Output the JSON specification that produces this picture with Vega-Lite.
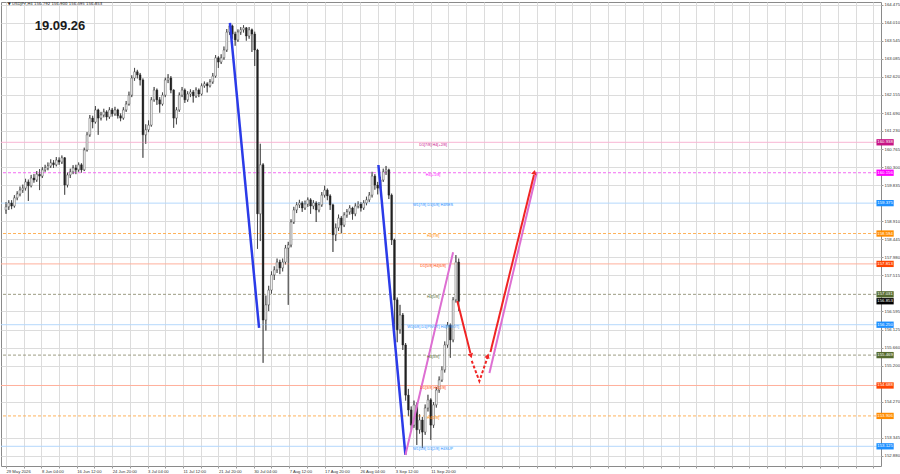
{
"$schema":"https://vega.github.io/schema/vega-lite/v6.json",
"width":880,"height":464,
"autosize":{"type":"none"},
"padding":{"left":1,"top":2,"right":19,"bottom":8},
"background":"#ffffff",
"config":{"view":{"stroke":"#8a8a8a","strokeWidth":1},"font":"Liberation Sans"},
"datasets":{
"h4":[
{"i":0,"o":159.20,"h":159.40,"l":159.10,"c":159.28},
{"i":3,"o":159.28,"h":159.45,"l":159.20,"c":159.38},
{"i":6,"o":159.38,"h":159.45,"l":159.22,"c":159.30},
{"i":9,"o":159.30,"h":159.58,"l":159.26,"c":159.51},
{"i":12,"o":159.51,"h":159.68,"l":159.45,"c":159.61},
{"i":15,"o":159.61,"h":159.80,"l":159.55,"c":159.71},
{"i":18,"o":159.71,"h":159.85,"l":159.64,"c":159.76},
{"i":21,"o":159.76,"h":160.00,"l":159.70,"c":159.92},
{"i":24,"o":159.92,"h":159.98,"l":159.43,"c":159.82},
{"i":27,"o":159.82,"h":160.10,"l":159.78,"c":160.02},
{"i":30,"o":160.02,"h":160.12,"l":159.90,"c":159.97},
{"i":33,"o":159.97,"h":160.20,"l":159.92,"c":160.12},
{"i":36,"o":160.12,"h":160.25,"l":159.71,"c":160.07},
{"i":39,"o":160.07,"h":160.30,"l":160.02,"c":160.23},
{"i":42,"o":160.23,"h":160.36,"l":160.18,"c":160.28},
{"i":45,"o":160.28,"h":160.42,"l":160.22,"c":160.33},
{"i":48,"o":160.33,"h":160.50,"l":160.28,"c":160.41},
{"i":51,"o":160.41,"h":160.48,"l":160.28,"c":160.36},
{"i":54,"o":160.36,"h":160.56,"l":160.32,"c":160.48},
{"i":57,"o":160.48,"h":160.55,"l":160.36,"c":160.43},
{"i":60,"o":160.43,"h":160.60,"l":160.38,"c":160.54},
{"i":63,"o":160.54,"h":160.56,"l":159.59,"c":159.84},
{"i":66,"o":159.84,"h":160.16,"l":159.78,"c":160.10},
{"i":69,"o":160.10,"h":160.26,"l":160.02,"c":160.18},
{"i":72,"o":160.18,"h":160.35,"l":160.12,"c":160.28},
{"i":75,"o":160.28,"h":160.36,"l":160.12,"c":160.23},
{"i":78,"o":160.23,"h":160.42,"l":160.18,"c":160.36},
{"i":81,"o":160.36,"h":160.40,"l":160.16,"c":160.23},
{"i":84,"o":160.23,"h":160.80,"l":160.20,"c":160.74},
{"i":87,"o":160.74,"h":161.20,"l":160.70,"c":161.13},
{"i":90,"o":161.13,"h":161.64,"l":161.08,"c":161.56},
{"i":93,"o":161.56,"h":161.62,"l":161.30,"c":161.46},
{"i":96,"o":161.46,"h":161.87,"l":161.42,"c":161.77},
{"i":99,"o":161.77,"h":161.80,"l":161.13,"c":161.56},
{"i":102,"o":161.56,"h":161.72,"l":161.50,"c":161.64},
{"i":105,"o":161.64,"h":161.80,"l":161.58,"c":161.72},
{"i":108,"o":161.72,"h":161.76,"l":161.50,"c":161.59},
{"i":111,"o":161.59,"h":161.84,"l":161.54,"c":161.77},
{"i":114,"o":161.77,"h":161.82,"l":161.60,"c":161.67},
{"i":117,"o":161.67,"h":161.85,"l":161.62,"c":161.77},
{"i":120,"o":161.77,"h":161.80,"l":161.55,"c":161.62},
{"i":123,"o":161.62,"h":161.68,"l":161.48,"c":161.56},
{"i":126,"o":161.56,"h":161.84,"l":161.52,"c":161.77},
{"i":129,"o":161.77,"h":162.00,"l":161.72,"c":161.92},
{"i":132,"o":161.92,"h":162.24,"l":161.88,"c":162.15},
{"i":135,"o":162.15,"h":162.66,"l":162.10,"c":162.59},
{"i":138,"o":162.59,"h":162.85,"l":162.52,"c":162.75},
{"i":141,"o":162.75,"h":162.80,"l":162.58,"c":162.67},
{"i":144,"o":162.67,"h":162.72,"l":162.40,"c":162.54},
{"i":147,"o":162.54,"h":162.58,"l":160.54,"c":161.13},
{"i":150,"o":161.13,"h":161.40,"l":160.90,"c":161.26},
{"i":153,"o":161.26,"h":161.50,"l":161.20,"c":161.38},
{"i":156,"o":161.38,"h":162.10,"l":161.34,"c":162.03},
{"i":159,"o":162.03,"h":162.36,"l":161.98,"c":162.28},
{"i":162,"o":162.28,"h":162.32,"l":161.90,"c":162.03},
{"i":165,"o":162.03,"h":162.10,"l":161.70,"c":161.92},
{"i":168,"o":161.92,"h":162.22,"l":161.88,"c":162.15},
{"i":171,"o":162.15,"h":162.60,"l":162.10,"c":162.54},
{"i":174,"o":162.54,"h":162.69,"l":162.46,"c":162.59},
{"i":177,"o":162.59,"h":162.64,"l":162.20,"c":162.28},
{"i":180,"o":162.28,"h":162.30,"l":161.31,"c":161.56},
{"i":183,"o":161.56,"h":161.84,"l":161.40,"c":161.77},
{"i":186,"o":161.77,"h":162.22,"l":161.72,"c":162.15},
{"i":189,"o":162.15,"h":162.36,"l":162.10,"c":162.28},
{"i":192,"o":162.28,"h":162.32,"l":161.95,"c":162.03},
{"i":195,"o":162.03,"h":162.25,"l":161.98,"c":162.18},
{"i":198,"o":162.18,"h":162.30,"l":162.10,"c":162.23},
{"i":201,"o":162.23,"h":162.28,"l":161.96,"c":162.13},
{"i":204,"o":162.13,"h":162.35,"l":162.08,"c":162.28},
{"i":207,"o":162.28,"h":162.32,"l":162.10,"c":162.18},
{"i":210,"o":162.18,"h":162.45,"l":162.14,"c":162.39},
{"i":213,"o":162.39,"h":162.50,"l":162.34,"c":162.44},
{"i":216,"o":162.44,"h":162.48,"l":162.22,"c":162.39},
{"i":219,"o":162.39,"h":162.56,"l":162.35,"c":162.49},
{"i":222,"o":162.49,"h":162.72,"l":162.44,"c":162.64},
{"i":225,"o":162.64,"h":163.18,"l":162.60,"c":163.11},
{"i":228,"o":163.11,"h":163.15,"l":162.85,"c":163.00},
{"i":231,"o":163.00,"h":163.20,"l":162.95,"c":163.11},
{"i":234,"o":163.11,"h":163.40,"l":163.06,"c":163.31},
{"i":237,"o":163.31,"h":163.85,"l":163.26,"c":163.77},
{"i":240,"o":163.77,"h":164.00,"l":163.70,"c":163.93},
{"i":243,"o":163.93,"h":163.96,"l":163.60,"c":163.72},
{"i":246,"o":163.72,"h":163.78,"l":163.42,"c":163.57},
{"i":249,"o":163.57,"h":163.84,"l":163.52,"c":163.77},
{"i":252,"o":163.77,"h":163.90,"l":163.70,"c":163.83},
{"i":255,"o":163.83,"h":163.95,"l":163.76,"c":163.88},
{"i":258,"o":163.88,"h":163.90,"l":163.55,"c":163.67},
{"i":261,"o":163.67,"h":163.90,"l":163.60,"c":163.83},
{"i":264,"o":163.83,"h":163.86,"l":163.26,"c":163.72},
{"i":267,"o":163.72,"h":163.78,"l":162.90,"c":163.31},
{"i":270,"o":163.31,"h":163.34,"l":158.20,"c":159.10},
{"i":273,"o":159.10,"h":160.90,"l":158.40,"c":160.36},
{"i":276,"o":160.36,"h":160.40,"l":155.27,"c":156.37},
{"i":279,"o":156.37,"h":157.00,"l":156.10,"c":156.76},
{"i":282,"o":156.76,"h":157.25,"l":156.60,"c":157.14},
{"i":285,"o":157.14,"h":157.62,"l":157.05,"c":157.53},
{"i":288,"o":157.53,"h":157.75,"l":157.40,"c":157.66},
{"i":291,"o":157.66,"h":157.95,"l":157.58,"c":157.86},
{"i":294,"o":157.86,"h":157.92,"l":157.55,"c":157.71},
{"i":297,"o":157.71,"h":157.95,"l":157.62,"c":157.86},
{"i":300,"o":157.86,"h":158.30,"l":157.80,"c":158.22},
{"i":303,"o":158.22,"h":158.38,"l":156.76,"c":158.30},
{"i":306,"o":158.30,"h":158.96,"l":158.24,"c":158.89},
{"i":309,"o":158.89,"h":159.28,"l":158.84,"c":159.20},
{"i":312,"o":159.20,"h":159.40,"l":159.12,"c":159.33},
{"i":315,"o":159.33,"h":159.46,"l":159.25,"c":159.38},
{"i":318,"o":159.38,"h":159.42,"l":159.15,"c":159.25},
{"i":321,"o":159.25,"h":159.44,"l":159.20,"c":159.35},
{"i":324,"o":159.35,"h":159.52,"l":159.28,"c":159.46},
{"i":327,"o":159.46,"h":159.50,"l":159.10,"c":159.30},
{"i":330,"o":159.30,"h":159.45,"l":159.22,"c":159.38},
{"i":333,"o":159.38,"h":159.42,"l":158.89,"c":159.20},
{"i":336,"o":159.20,"h":159.40,"l":159.14,"c":159.33},
{"i":339,"o":159.33,"h":159.66,"l":159.28,"c":159.58},
{"i":342,"o":159.58,"h":159.82,"l":159.52,"c":159.71},
{"i":345,"o":159.71,"h":159.75,"l":159.45,"c":159.56},
{"i":348,"o":159.56,"h":159.60,"l":159.20,"c":159.33},
{"i":351,"o":159.33,"h":159.36,"l":158.12,"c":158.56},
{"i":354,"o":158.56,"h":158.85,"l":158.40,"c":158.74},
{"i":357,"o":158.74,"h":159.08,"l":158.66,"c":158.99},
{"i":360,"o":158.99,"h":159.04,"l":158.60,"c":158.81},
{"i":363,"o":158.81,"h":159.14,"l":158.76,"c":159.07},
{"i":366,"o":159.07,"h":159.22,"l":159.00,"c":159.15},
{"i":369,"o":159.15,"h":159.32,"l":159.08,"c":159.25},
{"i":372,"o":159.25,"h":159.28,"l":158.95,"c":159.10},
{"i":375,"o":159.10,"h":159.38,"l":159.04,"c":159.30},
{"i":378,"o":159.30,"h":159.42,"l":159.24,"c":159.35},
{"i":381,"o":159.35,"h":159.40,"l":159.16,"c":159.25},
{"i":384,"o":159.25,"h":159.45,"l":159.20,"c":159.38},
{"i":387,"o":159.38,"h":159.54,"l":159.32,"c":159.46},
{"i":390,"o":159.46,"h":159.66,"l":159.40,"c":159.58},
{"i":393,"o":159.58,"h":160.18,"l":159.52,"c":160.07},
{"i":396,"o":160.07,"h":160.12,"l":159.72,"c":159.84},
{"i":399,"o":159.84,"h":159.92,"l":159.60,"c":159.76},
{"i":402,"o":159.76,"h":160.05,"l":159.70,"c":159.97},
{"i":405,"o":159.97,"h":160.26,"l":159.92,"c":160.18},
{"i":408,"o":160.18,"h":160.33,"l":160.10,"c":160.23},
{"i":411,"o":160.23,"h":160.26,"l":159.48,"c":159.58},
{"i":414,"o":159.58,"h":159.62,"l":158.30,"c":158.43},
{"i":417,"o":158.43,"h":158.46,"l":155.99,"c":156.89},
{"i":420,"o":156.89,"h":156.95,"l":155.80,"c":156.12},
{"i":423,"o":156.12,"h":156.76,"l":156.02,"c":156.50},
{"i":426,"o":156.50,"h":156.55,"l":155.60,"c":155.73},
{"i":429,"o":155.73,"h":155.78,"l":154.30,"c":154.44},
{"i":432,"o":154.44,"h":154.60,"l":153.90,"c":154.06},
{"i":435,"o":154.06,"h":154.15,"l":153.55,"c":153.67},
{"i":438,"o":153.67,"h":154.30,"l":153.60,"c":154.19},
{"i":441,"o":154.19,"h":154.25,"l":153.16,"c":153.55},
{"i":444,"o":153.55,"h":153.95,"l":153.45,"c":153.80},
{"i":447,"o":153.80,"h":153.88,"l":153.08,"c":153.49},
{"i":450,"o":153.49,"h":154.20,"l":153.42,"c":154.11},
{"i":453,"o":154.11,"h":154.45,"l":154.02,"c":154.32},
{"i":456,"o":154.32,"h":154.36,"l":153.29,"c":153.67},
{"i":459,"o":153.67,"h":154.26,"l":153.60,"c":154.19},
{"i":462,"o":154.19,"h":154.65,"l":154.12,"c":154.57},
{"i":465,"o":154.57,"h":154.92,"l":154.50,"c":154.83},
{"i":468,"o":154.83,"h":155.18,"l":154.78,"c":155.09},
{"i":471,"o":155.09,"h":155.82,"l":155.02,"c":155.73},
{"i":474,"o":155.73,"h":156.32,"l":155.66,"c":156.24},
{"i":477,"o":156.24,"h":156.28,"l":155.40,"c":155.86},
{"i":480,"o":155.86,"h":156.96,"l":155.80,"c":156.89},
{"i":483,"o":156.89,"h":158.04,"l":156.82,"c":157.86},
{"i":486,"o":157.86,"h":157.95,"l":156.60,"c":156.85}
],
"levels":[
{"p":160.938,"lvl":"D1[7/8] H4[+2/8]","tf":"multi"},
{"p":160.156,"lvl":"H4[+1/8]","tf":"H4"},
{"p":159.375,"lvl":"W1[7/8] D1[6/8] H4RES","tf":"multi"},
{"p":158.594,"lvl":"H4[7/8]","tf":"H4"},
{"p":157.813,"lvl":"D1[5/8] H4[6/8]","tf":"multi"},
{"p":157.031,"lvl":"H4[5/8]","tf":"H4"},
{"p":156.250,"lvl":"W1[6/8] D1[PIVOT] H4[PIVOT]","tf":"multi"},
{"p":155.469,"lvl":"H4[3/8]","tf":"H4"},
{"p":154.688,"lvl":"D1[3/8] H4[2/8]","tf":"multi"},
{"p":153.906,"lvl":"H4[1/8]","tf":"H4"},
{"p":153.125,"lvl":"W1[5/8] D1[2/8] H4SUP","tf":"multi"}
],
"paths":[
{"s":"b1","i":240.4,"p":164.005},{"s":"b1","i":271.7,"p":156.166},
{"s":"b2","i":399.8,"p":160.355},{"s":"b2","i":428.8,"p":152.902},
{"s":"o1","i":428.8,"p":152.902},{"s":"o1","i":480.0,"p":158.112},
{"s":"o2","i":519.0,"p":155.010},{"s":"o2","i":569.9,"p":160.176},
{"s":"r1","i":484.5,"p":156.860},{"s":"r1","i":498.6,"p":155.520},
{"s":"r3","i":520.1,"p":155.550},{"s":"r3","i":566.8,"p":160.099},
{"s":"d1","i":500.0,"p":155.320},{"s":"d1","i":508.2,"p":154.800},{"s":"d1","i":516.8,"p":155.400}
]
},
"layer":[
{"data":{"name":"h4"},"mark":{"type":"rule","strokeWidth":0.7,"color":"#3a3a3a"},
 "encoding":{
  "x":{"field":"i","type":"quantitative","scale":{"domain":[0,934],"nice":false,"zero":false},
   "axis":{"title":null,"values":[0,19,38,57,76,95,114,133,152,171,190,209,228,247,266,285,304,323,342,361,380,399,418,437,456,475,494,513,532,551,570,589,608,627,646,665,684,703,722,741,760,779,798,817,836,855,874,893,912,931],
   "labelExpr":"(datum.value % 38 == 0 && datum.value <= 456) ? ['29 May 2026','8 Jun 04:00','16 Jun 12:00','24 Jun 20:00','3 Jul 04:00','11 Jul 12:00','21 Jul 20:00','30 Jul 04:00','7 Aug 12:00','17 Aug 20:00','26 Aug 04:00','3 Sep 12:00','11 Sep 20:00'][datum.value / 38] : ''",
   "grid":true,"gridColor":"#dcdcdc","gridWidth":1,"domain":false,"ticks":true,"tickSize":2,"tickColor":"#9a9a9a",
   "labelFontSize":4.2,"labelColor":"#333333","labelAlign":"left","labelPadding":1,"labelOverlap":false,"labelBound":false,"labelFlush":false}},
  "y":{"field":"l","type":"quantitative","scale":{"domain":[152.619,164.544],"nice":false,"zero":false},
   "axis":{"title":null,"orient":"right","values":[152.880,153.345,154.270,155.200,155.660,156.125,156.595,157.515,157.980,158.445,158.910,159.835,160.300,160.765,161.230,161.690,162.155,162.620,163.085,163.545,164.010,164.475],
   "format":".3f","grid":true,"gridColor":"#dcdcdc","gridWidth":1,"domain":false,"ticks":true,"tickSize":2,"tickColor":"#9a9a9a",
   "labelFontSize":4.3,"labelColor":"#333333","labelPadding":1,"labelOverlap":false,"labelBound":false,"labelFlush":false}},
  "y2":{"field":"h"}
 }},
{"data":{"name":"levels"},"mark":{"type":"rule","strokeWidth":1},
 "encoding":{
  "y":{"field":"p","type":"quantitative","scale":{"domain":[152.619,164.544],"nice":false,"zero":false},"axis":null},
  "color":{"field":"lvl","type":"nominal","legend":null,"scale":{"domain":["D1[7/8] H4[+2/8]","H4[+1/8]","W1[7/8] D1[6/8] H4RES","H4[7/8]","D1[5/8] H4[6/8]","H4[5/8]","W1[6/8] D1[PIVOT] H4[PIVOT]","H4[3/8]","D1[3/8] H4[2/8]","H4[1/8]","W1[5/8] D1[2/8] H4SUP"],"range":["#f8b6d4","#f26cf2","#b5d8fc","#ffb35c","#ffb19c","#9c9c84","#b5d8fc","#9c9c84","#ffb19c","#ffb35c","#b5d8fc"]}},
  "strokeDash":{"field":"tf","type":"nominal","legend":null,"scale":{"domain":["multi","H4"],"range":[[1,0],[3,2]]}}
 }},
{"data":{"name":"h4"},"mark":{"type":"rule","strokeWidth":0.7,"color":"#3a3a3a"},
 "encoding":{
  "x":{"field":"i","type":"quantitative","scale":{"domain":[0,934],"nice":false,"zero":false},"axis":null},
  "y":{"field":"l","type":"quantitative","scale":{"domain":[152.619,164.544],"nice":false,"zero":false},"axis":null},
  "y2":{"field":"h"}
 }},
{"data":{"name":"h4"},"mark":{"type":"bar","size":1.8,"stroke":"#222222","strokeWidth":0.4},
 "encoding":{
  "x":{"field":"i","type":"quantitative","scale":{"domain":[0,934],"nice":false,"zero":false},"axis":null},
  "y":{"field":"o","type":"quantitative","scale":{"domain":[152.619,164.544],"nice":false,"zero":false},"axis":null},
  "y2":{"field":"c"},
  "color":{"condition":{"test":"datum.c >= datum.o","value":"#ffffff"},"value":"#222222"}
 }},
{"data":{"name":"paths"},"transform":[{"filter":"datum.s == 'b1' || datum.s == 'b2'"}],
 "mark":{"type":"line","color":"#2b3be8","strokeWidth":2.5},
 "encoding":{
  "x":{"field":"i","type":"quantitative","scale":{"domain":[0,934],"nice":false,"zero":false},"axis":null},
  "y":{"field":"p","type":"quantitative","scale":{"domain":[152.619,164.544],"nice":false,"zero":false},"axis":null},
  "detail":{"field":"s"}
 }},
{"data":{"name":"paths"},"transform":[{"filter":"datum.s == 'o1' || datum.s == 'o2'"}],
 "mark":{"type":"line","color":"#dd6fd2","strokeWidth":2},
 "encoding":{
  "x":{"field":"i","type":"quantitative","scale":{"domain":[0,934],"nice":false,"zero":false},"axis":null},
  "y":{"field":"p","type":"quantitative","scale":{"domain":[152.619,164.544],"nice":false,"zero":false},"axis":null},
  "detail":{"field":"s"}
 }},
{"data":{"name":"paths"},"transform":[{"filter":"datum.s == 'r1' || datum.s == 'r3'"}],
 "mark":{"type":"line","color":"#f02424","strokeWidth":2},
 "encoding":{
  "x":{"field":"i","type":"quantitative","scale":{"domain":[0,934],"nice":false,"zero":false},"axis":null},
  "y":{"field":"p","type":"quantitative","scale":{"domain":[152.619,164.544],"nice":false,"zero":false},"axis":null},
  "detail":{"field":"s"}
 }},
{"data":{"name":"paths"},"transform":[{"filter":"datum.s == 'd1'"}],
 "mark":{"type":"line","color":"#f02424","strokeWidth":2,"strokeDash":[3,2]},
 "encoding":{
  "x":{"field":"i","type":"quantitative","scale":{"domain":[0,934],"nice":false,"zero":false},"axis":null},
  "y":{"field":"p","type":"quantitative","scale":{"domain":[152.619,164.544],"nice":false,"zero":false},"axis":null}
 }},
{"data":{"values":[{"i":499.2,"p":155.45}]},
 "mark":{"type":"point","shape":"triangle-up","angle":165,"filled":true,"color":"#f02424","size":30,"opacity":1},
 "encoding":{
  "x":{"field":"i","type":"quantitative","scale":{"domain":[0,934],"nice":false,"zero":false},"axis":null},
  "y":{"field":"p","type":"quantitative","scale":{"domain":[152.619,164.544],"nice":false,"zero":false},"axis":null}
 }},
{"data":{"values":[{"i":517.2,"p":155.45}]},
 "mark":{"type":"point","shape":"triangle-up","angle":20,"filled":true,"color":"#f02424","size":30,"opacity":1},
 "encoding":{
  "x":{"field":"i","type":"quantitative","scale":{"domain":[0,934],"nice":false,"zero":false},"axis":null},
  "y":{"field":"p","type":"quantitative","scale":{"domain":[152.619,164.544],"nice":false,"zero":false},"axis":null}
 }},
{"data":{"values":[{"i":567.2,"p":160.17}]},
 "mark":{"type":"point","shape":"triangle-up","angle":14,"filled":true,"color":"#f02424","size":30,"opacity":1},
 "encoding":{
  "x":{"field":"i","type":"quantitative","scale":{"domain":[0,934],"nice":false,"zero":false},"axis":null},
  "y":{"field":"p","type":"quantitative","scale":{"domain":[152.619,164.544],"nice":false,"zero":false},"axis":null}
 }},
{"data":{"name":"levels"},"mark":{"type":"text","fontSize":3.8,"align":"center","baseline":"middle","dy":2.3},
 "encoding":{
  "x":{"datum":458.5,"type":"quantitative","scale":{"domain":[0,934],"nice":false,"zero":false},"axis":null},
  "y":{"field":"p","type":"quantitative","scale":{"domain":[152.619,164.544],"nice":false,"zero":false},"axis":null},
  "text":{"field":"lvl"},
  "color":{"field":"lvl","type":"nominal","legend":null,"scale":{"domain":["D1[7/8] H4[+2/8]","H4[+1/8]","W1[7/8] D1[6/8] H4RES","H4[7/8]","D1[5/8] H4[6/8]","H4[5/8]","W1[6/8] D1[PIVOT] H4[PIVOT]","H4[3/8]","D1[3/8] H4[2/8]","H4[1/8]","W1[5/8] D1[2/8] H4SUP"],"range":["#c8108a","#ff00ff","#1e90ff","#ff8c00","#ff4500","#556b2f","#1e90ff","#556b2f","#ff4500","#ff8c00","#1e90ff"]}}
 }},
{"data":{"name":"levels"},"mark":{"type":"rule","strokeWidth":6.3},
 "encoding":{
  "x":{"datum":934.5,"type":"quantitative","scale":{"domain":[0,934],"nice":false,"zero":false},"axis":null},
  "x2":{"datum":953},
  "y":{"field":"p","type":"quantitative","scale":{"domain":[152.619,164.544],"nice":false,"zero":false},"axis":null},
  "color":{"field":"lvl","type":"nominal","legend":null,"scale":{"domain":["D1[7/8] H4[+2/8]","H4[+1/8]","W1[7/8] D1[6/8] H4RES","H4[7/8]","D1[5/8] H4[6/8]","H4[5/8]","W1[6/8] D1[PIVOT] H4[PIVOT]","H4[3/8]","D1[3/8] H4[2/8]","H4[1/8]","W1[5/8] D1[2/8] H4SUP"],"range":["#c71585","#ff00ff","#1e90ff","#ff8c00","#ff4500","#556b2f","#1e90ff","#556b2f","#ff4500","#ff8c00","#1e90ff"]}}
 }},
{"data":{"values":[{"p":156.853}]},"mark":{"type":"rule","strokeWidth":6.3,"color":"#000000"},
 "encoding":{
  "x":{"datum":934.5,"type":"quantitative","scale":{"domain":[0,934],"nice":false,"zero":false},"axis":null},
  "x2":{"datum":953},
  "y":{"field":"p","type":"quantitative","scale":{"domain":[152.619,164.544],"nice":false,"zero":false},"axis":null}
 }},
{"data":{"name":"levels"},"mark":{"type":"text","fontSize":4.3,"align":"center","baseline":"middle","color":"#ffffff"},
 "encoding":{
  "x":{"datum":943.7,"type":"quantitative","scale":{"domain":[0,934],"nice":false,"zero":false},"axis":null},
  "y":{"field":"p","type":"quantitative","scale":{"domain":[152.619,164.544],"nice":false,"zero":false},"axis":null},
  "text":{"field":"p","type":"quantitative","format":".3f"}
 }},
{"data":{"values":[{"p":156.853}]},"mark":{"type":"text","fontSize":4.3,"align":"center","baseline":"middle","color":"#ffffff"},
 "encoding":{
  "x":{"datum":943.7,"type":"quantitative","scale":{"domain":[0,934],"nice":false,"zero":false},"axis":null},
  "y":{"field":"p","type":"quantitative","scale":{"domain":[152.619,164.544],"nice":false,"zero":false},"axis":null},
  "text":{"field":"p","type":"quantitative","format":".3f"}
 }},
{"data":{"values":[{"t":"▼ USDJPY,H4  156.792 156.900 156.595 156.853"}]},
 "mark":{"type":"text","fontSize":3.9,"align":"left","baseline":"middle","color":"#222222","font":"DejaVu Sans"},
 "encoding":{
  "x":{"datum":2,"type":"quantitative","scale":{"domain":[0,934],"nice":false,"zero":false},"axis":null},
  "y":{"datum":164.48,"type":"quantitative","scale":{"domain":[152.619,164.544],"nice":false,"zero":false},"axis":null},
  "text":{"field":"t"}
 }},
{"data":{"values":[{"t":"19.09.26"}]},
 "mark":{"type":"text","fontSize":13,"fontWeight":"bold","align":"left","baseline":"middle","color":"#1a1a1a"},
 "encoding":{
  "x":{"datum":30.8,"type":"quantitative","scale":{"domain":[0,934],"nice":false,"zero":false},"axis":null},
  "y":{"datum":163.915,"type":"quantitative","scale":{"domain":[152.619,164.544],"nice":false,"zero":false},"axis":null},
  "text":{"field":"t"}
 }}
],
"resolve":{"scale":{"color":"independent","strokeDash":"independent"},"axis":{"x":"independent","y":"independent"}}
}
